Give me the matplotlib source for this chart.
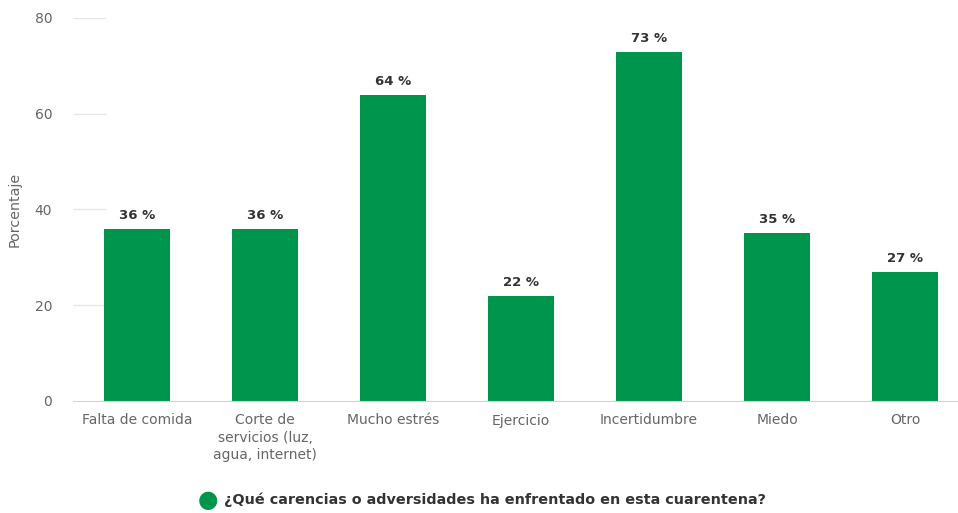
import numpy as np
from matplotlib import pyplot as plt

categories = ['Falta de comida', 'Corte de\nservicios (luz,\nagua, internet)', 'Mucho estrés',
              'Ejercicio', 'Incertidumbre', 'Miedo', 'Otro']
values = [36, 36, 64, 22, 73, 35, 27]
yticks = [0, 20, 40, 60, 80]
series_name = '¿Qué carencias o adversidades ha enfrentado en esta cuarentena?'

GREEN = '#00954c'
plt.rcParams['font.family'] = ['DejaVu Sans']

fig = plt.figure(figsize=(9.58, 5.13), dpi=100)
ax = fig.add_axes([73/958, 1 - 401/513, 1 - 73/958, (401 - 18)/513])

x = np.arange(len(categories))
ax.bar(x, values, width=0.51, color=GREEN, zorder=2)
for xi, v in zip(x, values):
    ax.annotate(f'{v} %', (xi, v), xytext=(0, 5), textcoords='offset points',
                ha='center', va='bottom', fontsize=9.5, fontweight='bold', color='#333333')

ax.set_xlim(-0.5, (958 - 137) / 128)
ax.set_ylim(0, 80)
# short grid stubs at the left, as in the original
ax.hlines(yticks[1:], -0.5, -0.24, color='#e6e6e6', lw=1, zorder=1)

ax.set_xticks(x)
ax.set_xticklabels(categories, fontsize=10, color='#666666', linespacing=1.3, va='top')
ax.set_yticks(yticks)
ax.set_yticklabels([str(t) for t in yticks], fontsize=10, color='#666666')
ax.tick_params(axis='x', length=0, pad=9)
ax.tick_params(axis='y', length=0, pad=15)
for s in ['top', 'right', 'left']:
    ax.spines[s].set_visible(False)
ax.spines['bottom'].set_color('#ccd6eb')
ax.set_ylabel('Porcentaje', fontsize=10.3, color='#666666')
ax.yaxis.set_label_coords(-0.058, 0.5)

fig.text(208/958, 1 - 500/513, '●', fontsize=17, color=GREEN, ha='center', va='center')
fig.text(224/958, 1 - 500/513, series_name, fontsize=10.4, fontweight='bold',
         color='#333333', ha='left', va='center')

fig.savefig('out.png', dpi=100)
